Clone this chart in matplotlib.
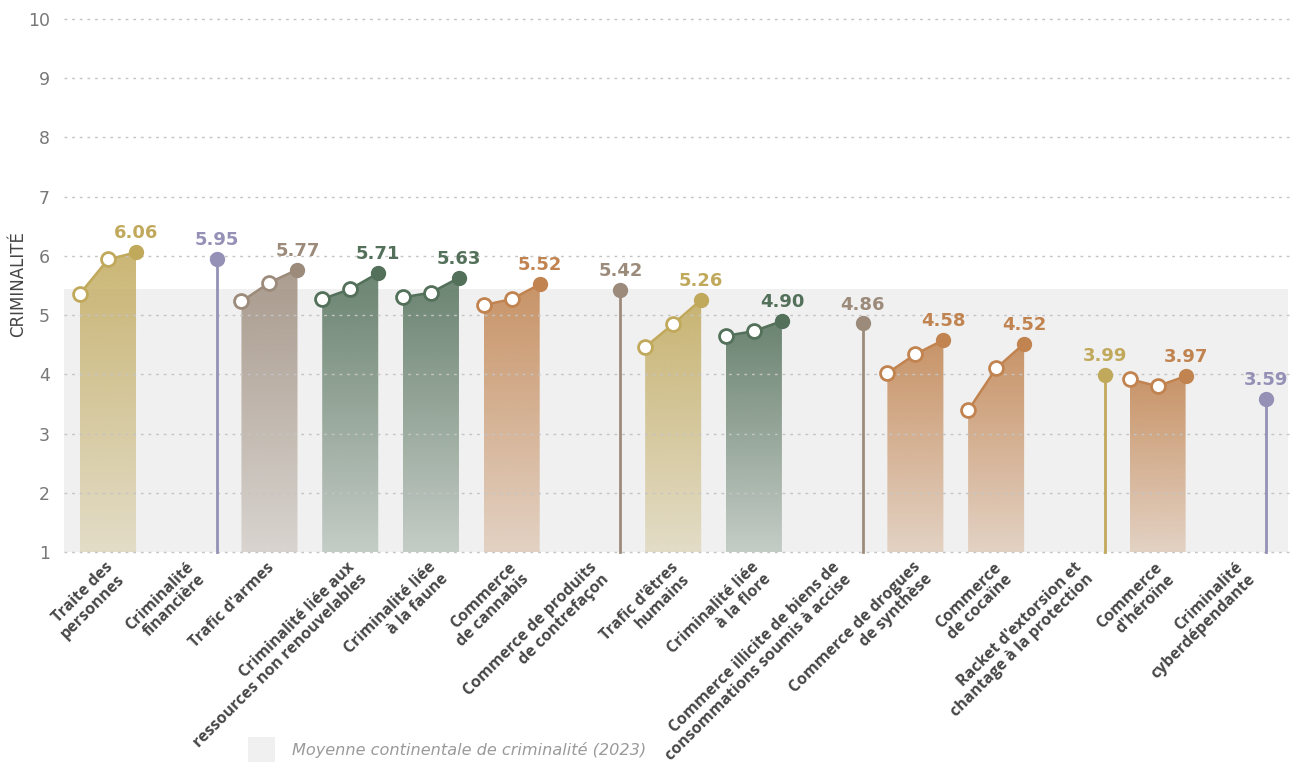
import numpy as np
import matplotlib
matplotlib.use("Agg")
import matplotlib.pyplot as plt
from matplotlib.patches import Polygon, Rectangle
from matplotlib.colors import to_rgb
import matplotlib.transforms as mtransforms

# Données
categories = [
    "Traite des\npersonnes",
    "Criminalité\nfinancière",
    "Trafic d'armes",
    "Criminalité liée aux\nressources non renouvelables",
    "Criminalité liée\nà la faune",
    "Commerce\nde cannabis",
    "Commerce de produits\nde contrefaçon",
    "Trafic d'êtres\nhumains",
    "Criminalité liée\nà la flore",
    "Commerce illicite de biens de\nconsommations soumis à accise",
    "Commerce de drogues\nde synthèse",
    "Commerce\nde cocaïne",
    "Racket d'extorsion et\nchantage à la protection",
    "Commerce\nd'héroïne",
    "Criminalité\ncyberdépendante",
]
first = [5.36, None, 5.23, 5.27, 5.30, 5.17, None, 4.46, 4.65, None, 4.02, 3.39, None, 3.92, None]
middle = [5.94, None, 5.55, 5.44, 5.38, 5.27, None, 4.85, 4.73, None, 4.34, 4.10, None, 3.80, None]
latest = [6.06, 5.95, 5.77, 5.71, 5.63, 5.52, 5.42, 5.26, 4.90, 4.86, 4.58, 4.52, 3.99, 3.97, 3.59]
groups = ["or", "lavande", "taupe", "vert", "vert", "cuivre", "taupe", "or", "vert",
          "taupe", "cuivre", "cuivre", "or", "cuivre", "lavande"]
moyenne = 5.44

couleurs = {
    "or": "#c1a95c",
    "lavande": "#9590b6",
    "taupe": "#9c8b7b",
    "vert": "#53705a",
    "cuivre": "#c1834f",
}

fig = plt.figure(figsize=(12.91, 7.63), dpi=100)
ax = fig.add_axes([64 / 1291, 1 - 555 / 763, 1226 / 1291, 539 / 763])

d = 0.347  # écart entre les points d'une même catégorie

# bande de la moyenne continentale
ax.axhspan(1, moyenne, xmin=0, xmax=0.998, color="#f0f0f0", zorder=0.2, lw=0)

for i, cat in enumerate(categories):
    c = couleurs[groups[i]]
    if first[i] is not None:
        xs = [i - d, i, i + d]
        ys = [first[i], middle[i], latest[i]]
        verts = [(xs[0], 1)] + list(zip(xs, ys)) + [(xs[-1], 1)]
        poly = Polygon(verts, closed=True, facecolor="none", edgecolor="none")
        ax.add_patch(poly)
        grad = np.zeros((256, 1, 4))
        grad[..., :3] = to_rgb(c)
        grad[:, 0, 3] = np.linspace(0.28, 0.85, 256)
        im = ax.imshow(grad, extent=[xs[0], xs[-1], 1, max(ys)], origin="lower",
                       aspect="auto", interpolation="bilinear", zorder=1)
        im.set_clip_path(poly)
        ax.plot(xs, ys, color=c, lw=1.8, zorder=3, solid_capstyle="round")
        ax.plot(xs[:2], ys[:2], ls="none", marker="o", ms=10, mfc="white",
                mec=c, mew=2, zorder=4)
        ax.plot(xs[2], ys[2], ls="none", marker="o", ms=10, mfc=c, mec=c, zorder=4)
    else:
        ax.plot([i + d, i + d], [1, latest[i]], color=c, lw=2, zorder=3)
        ax.plot(i + d, latest[i], ls="none", marker="o", ms=10, mfc=c, mec=c, zorder=4)
    ax.annotate(f"{latest[i]:.2f}", (i + d, latest[i]), xytext=(0, 10),
                textcoords="offset points", ha="center", va="baseline",
                fontsize=13, fontweight="bold", color=c, family="DejaVu Sans")

ax.set_xlim(-0.545, 14.64)
ax.set_ylim(0.95, 10.05)
ax.set_yticks(range(1, 11))
ax.set_xticks([])
ax.yaxis.grid(True, color="#c4c4c4", lw=1, ls=(0, (2, 3.5)), zorder=2.5)
ax.set_axisbelow(False)
for s in ax.spines.values():
    s.set_visible(False)
ax.tick_params(axis="y", length=0, pad=10, labelsize=12.5, labelcolor="#787878")

# étiquettes des catégories
trans = mtransforms.blended_transform_factory(ax.transData, ax.transAxes)
for i, cat in enumerate(categories):
    ax.text(i - 0.04, -0.008, cat, transform=trans, rotation=45,
            rotation_mode="anchor", ha="right", va="top", multialignment="right",
            fontsize=11.5, fontweight="bold", color="#474747", family="Open Sans",
            linespacing=1.08)

fig.text(18 / 1291, 1 - 284 / 763, "CRIMINALITÉ", rotation=90, ha="center",
         va="center", fontsize=12, color="#444444")

# légende
fig.patches.append(Rectangle((248 / 1291, 1 - 762 / 763), 27 / 1291, 25 / 763,
                             transform=fig.transFigure, facecolor="#f0f0f0",
                             edgecolor="none"))
fig.text(292 / 1291, 1 - 750 / 763, "Moyenne continentale de criminalité (2023)",
         ha="left", va="center", fontsize=11.6, style="italic", color="#9a9a9a")

fig.savefig("out.png", dpi=100)
